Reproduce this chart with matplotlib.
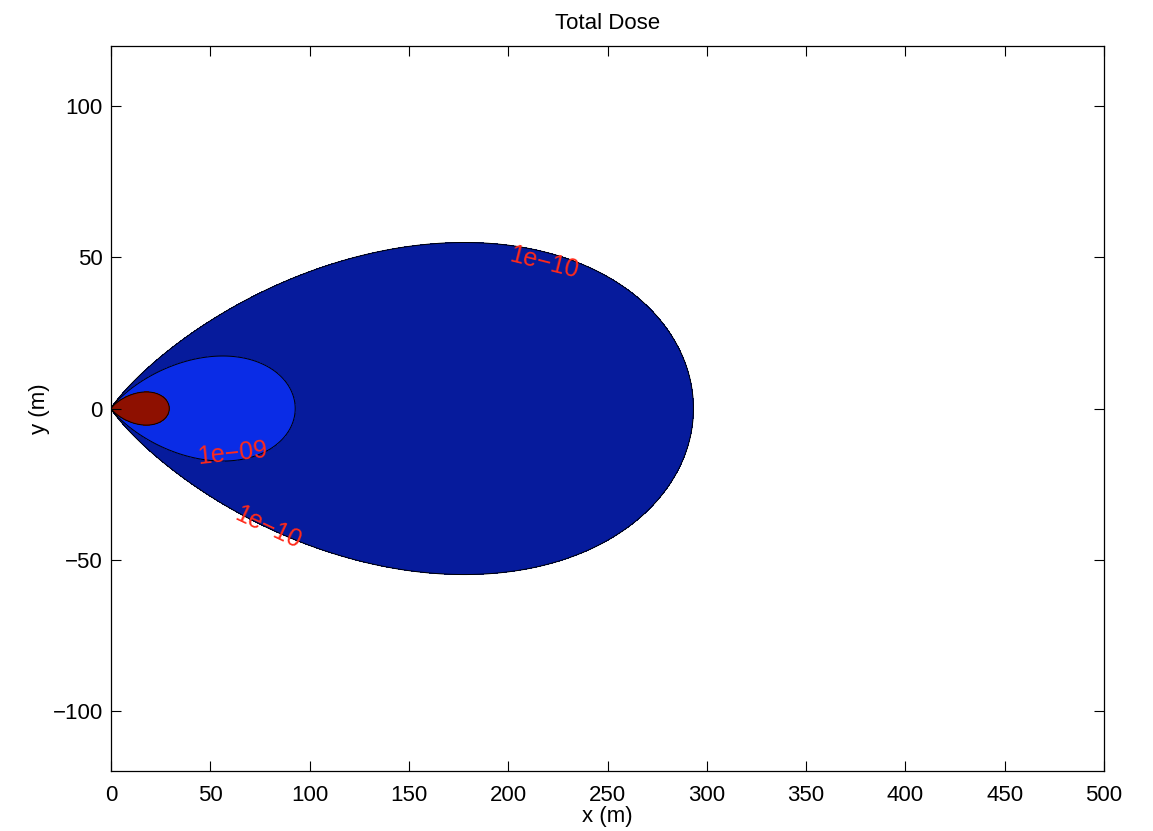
## ground-level total dose from a point release, contour map

import numpy as np
import matplotlib
matplotlib.use('Agg')
import matplotlib.pyplot as plt

plt.rcParams['font.family'] = ['Liberation Sans', 'DejaVu Sans']

# plume parameters: dose on the centreline falls off as 1/x^2,
# crosswind spread grows linearly downwind
dose_coeff = 8.6e-6        # dose * m^2 on the centreline
spread_rate = 0.2185       # sigma_y per metre downwind

dose_levels = [1e-10, 1e-9, 1e-8]
level_colors = ['#061b9c', '#0a2ce6', '#8e1000']
label_levels = [1e-10, 1e-9]
label_spots = [(218, 51.8), (61, -17.1), (79, -39.5)]
# small nudges so the labels sit just off the line, as contour labels do
label_nudge = [(0, -3.5), (0, 2.5), (0, 0)]


def dose_label(v):
    return ('%.0e' % v).replace('-', '\u2212')


x = np.linspace(0.05, 500, 2500)
y = np.linspace(-120, 120, 1201)
X, Y = np.meshgrid(x, y)
sigma_y = spread_rate * X
D = dose_coeff / X**2 * np.exp(-Y**2 / (2 * sigma_y**2))

fig = plt.figure(figsize=(11.53, 8.31), dpi=100)
ax = fig.add_axes([0.0963, 0.0722, 0.8612, 0.8724])

fill_levels = dose_levels + [D.max() * 10]
ax.contourf(X, Y, D, levels=fill_levels, colors=level_colors)
cs = ax.contour(X, Y, D, levels=dose_levels, colors='black', linewidths=0.7)
labels = ax.clabel(cs, levels=label_levels, manual=label_spots, inline=False,
                   colors='#ff2a1a', fontsize=18, fmt=dose_label)
for t in labels:
    px, py = t.get_position()
    # match each label to the nearest requested spot
    k = int(np.argmin([(px - sx)**2 + (py - sy)**2 for sx, sy in label_spots]))
    t.set_position((px + label_nudge[k][0], py + label_nudge[k][1]))

ax.set_xlim(0, 500)
ax.set_ylim(-120, 120)
ax.set_xticks(np.arange(0, 501, 50))
ax.set_yticks([-100, -50, 0, 50, 100])
ax.tick_params(direction='in', length=7, width=0.8, labelsize=16,
               top=True, right=True)
ax.tick_params(axis='x', pad=10)
ax.tick_params(axis='y', pad=6)
for s in ax.spines.values():
    s.set_linewidth(0.9)

ax.set_title('Total Dose', fontsize=16, pad=12)
ax.set_xlabel('x (m)', fontsize=16, labelpad=0)
ax.set_ylabel('y (m)', fontsize=16, labelpad=2)

fig.savefig('out.png', dpi=100)
